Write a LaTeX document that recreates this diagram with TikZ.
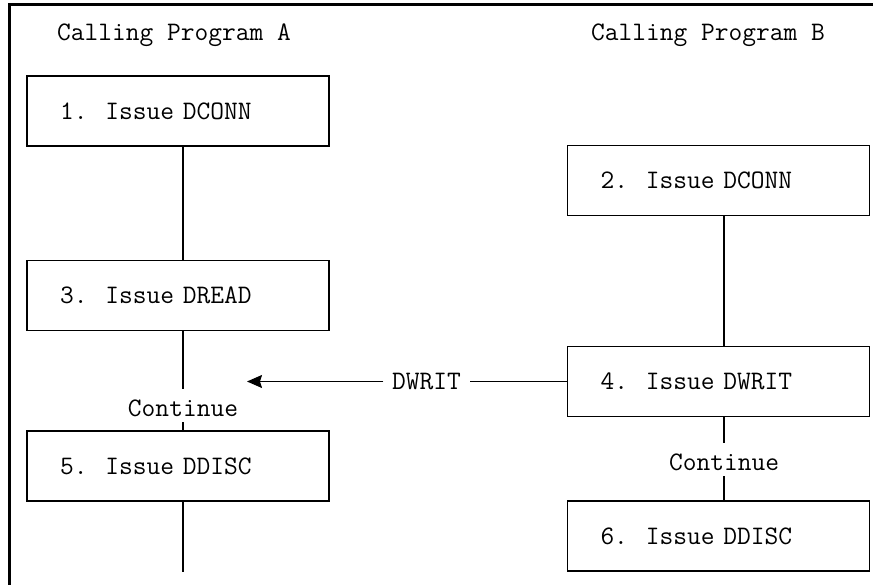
\documentclass[tikz,border=0pt]{standalone}
\usetikzlibrary{arrows.meta}
\begin{document}
\begin{tikzpicture}[x=1pt,y=-1pt,
  every node/.style={font=\fontsize{26.7}{30}\selectfont\ttfamily},
  stepbox/.style={draw, line width=1.6pt, minimum height=70pt,
    inner xsep=33pt, inner ysep=0pt, text width=236pt, align=left},
  title/.style={anchor=base west, inner sep=0pt},
  gaplabel/.style={inner sep=0pt, minimum height=33pt, text height=21pt, text depth=0pt},
  msglabel/.style={inner xsep=8.5pt, inner ysep=0pt},
  link/.style={line width=1.3pt},
  msg/.style={line width=1.3pt, -{Stealth[length=15pt,width=13pt,inset=2pt]}}]

  % page area and frame (left and top edges only)
  \useasboundingbox[fill=white] (0,0) rectangle (873,585);
  \draw[line width=3pt] (9.5,585) -- (9.5,5) -- (873,5);

  % column headings
  \node[title] (ta) at (57,41) {Calling Program A};
  \node[title] (tb) at (591,41) {Calling Program B};

  % program A steps
  \node[stepbox] (s1) at (178,111)   {1.\ \ Issue DCONN};
  \node[stepbox] (s3) at (178,295.5) {3.\ \ Issue DREAD};
  \node[stepbox] (s5) at (178,466)   {5.\ \ Issue DDISC};
  \node[gaplabel] (ca) at (183,405.5) {Continue};
  \coordinate (enda) at (183,572);

  % program B steps
  \node[stepbox] (s2) at (718.5,180.5) {2.\ \ Issue DCONN};
  \node[stepbox] (s4) at (718.5,381.5) {4.\ \ Issue DWRIT};
  \node[stepbox] (s6) at (718.5,536)   {6.\ \ Issue DDISC};
  \node[gaplabel] (cb) at (724,459.5) {Continue};

  % message from B to A
  \node[msglabel] (dw) at (426.5,381.5) {DWRIT};
  \coordinate (arrive) at (247,381.5);

  % program A flow
  \draw[link] ([xshift=5pt]s1.south) -- ([xshift=5pt]s3.north);
  \draw[link] ([xshift=5pt]s3.south) -- (ca.north);
  \draw[link] (ca.south) -- ([xshift=5pt]s5.north);
  \draw[link] ([xshift=5pt]s5.south) -- (enda);

  % program B flow
  \draw[link] ([xshift=5.5pt]s2.south) -- ([xshift=5.5pt]s4.north);
  \draw[link] ([xshift=5.5pt]s4.south) -- (cb.north);
  \draw[link] (cb.south) -- ([xshift=5.5pt]s6.north);

  % DWRIT message
  \draw[link] (s4.west) -- (dw.east);
  \draw[msg] (dw.west) -- (arrive);
\end{tikzpicture}
\end{document}
